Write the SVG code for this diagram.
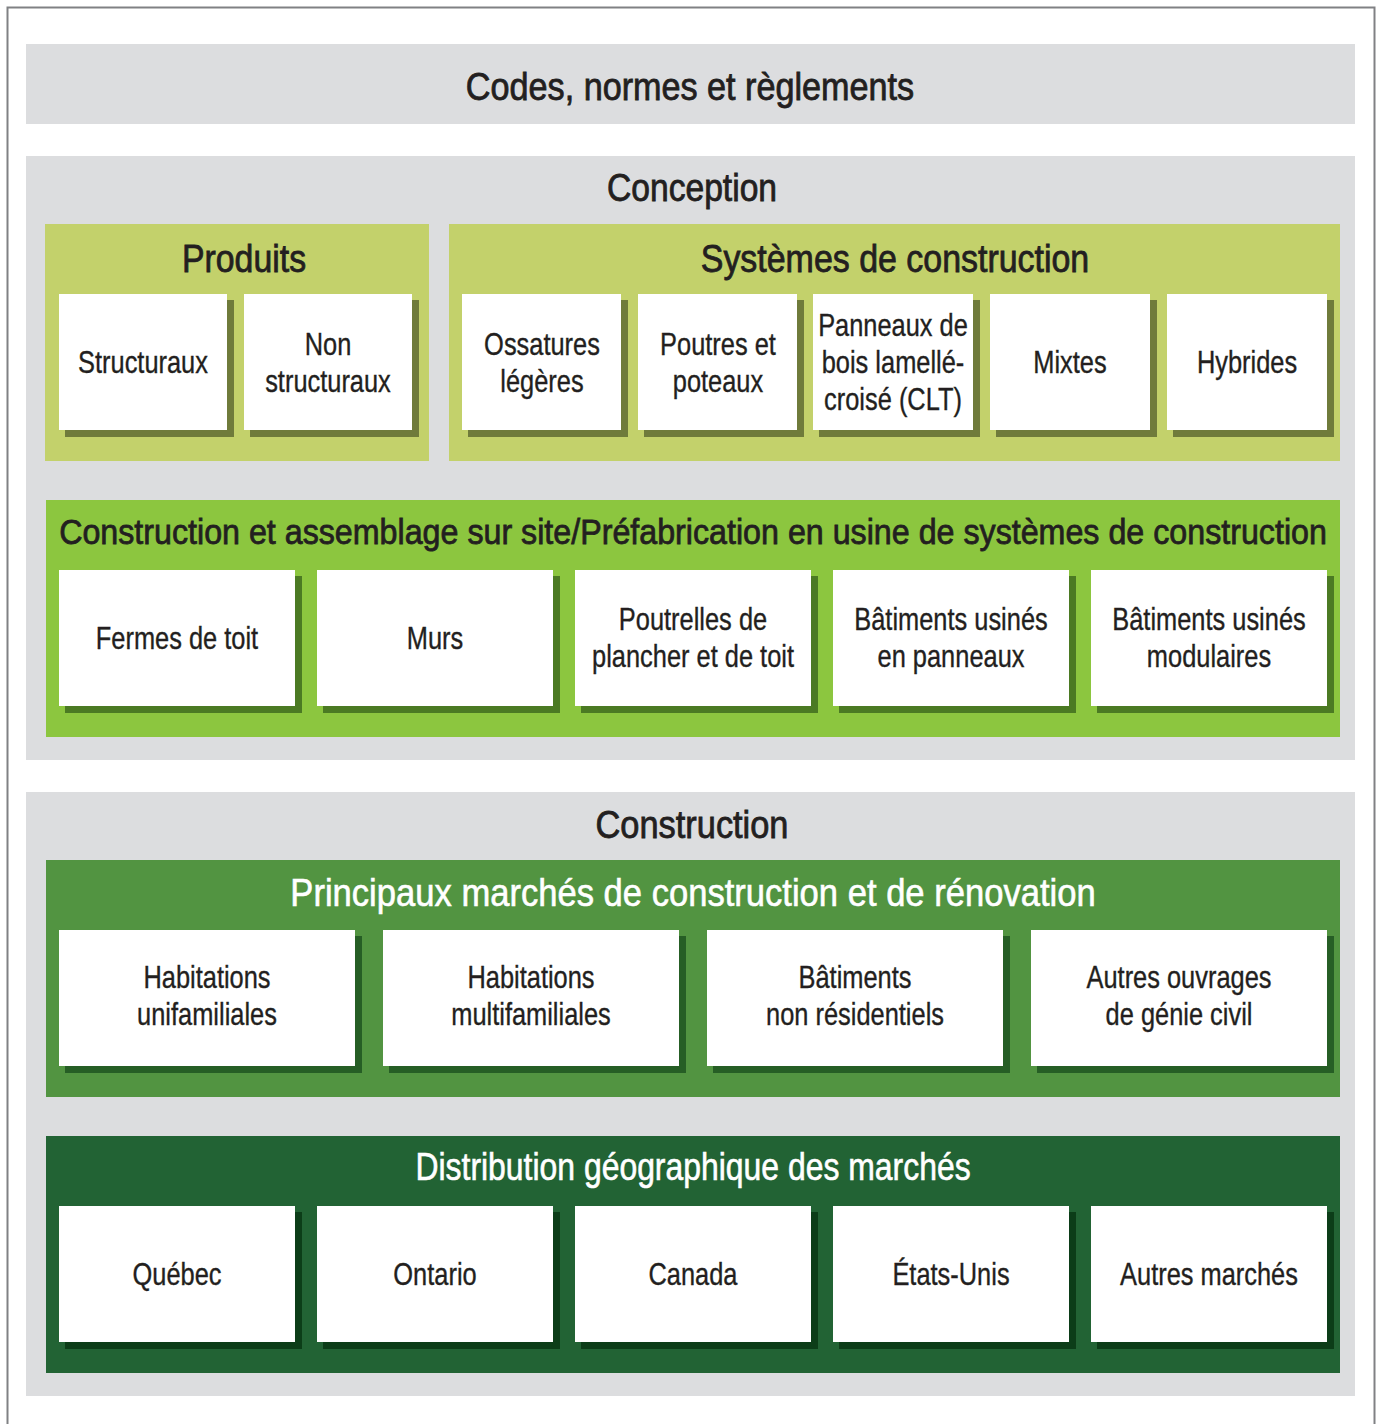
<svg xmlns="http://www.w3.org/2000/svg" width="1379" height="1424" viewBox="0 0 1379 1424">
<style>
text{font-family:"Liberation Sans",Arial,sans-serif;text-anchor:middle;fill:#231f20}
.h{font-size:38px;stroke:#231f20;stroke-width:0.8}
.h2{font-size:36px;stroke:#231f20;stroke-width:0.8}
.l{font-size:31px;stroke:#231f20;stroke-width:0.35}
.h.w{fill:#ffffff;stroke:#ffffff;stroke-width:0.6}
.gray{fill:#dcdddf}
.lime{fill:#c3d16b}
.bright{fill:#8cc63f}
.mid{fill:#529441}
.dark{fill:#226334}
.box{fill:#ffffff}
.s1{fill:#6f7b3b}
.s2{fill:#4b7a23}
.s3{fill:#265e25}
.s4{fill:#0c3d18}
</style>
<rect x="0" y="0" width="1379" height="1424" fill="#ffffff"/>
<rect x="7.5" y="7.5" width="1367" height="1440" fill="none" stroke="#808184" stroke-width="2"/>

<g id="codes">
<rect class="gray" x="26" y="44" width="1329" height="80"/>
<text class="h" transform="translate(690,100) scale(0.9,1)">Codes, normes et règlements</text>
</g>

<g id="conception">
<rect class="gray" x="26" y="156" width="1329" height="604"/>
<text class="h" transform="translate(692,201) scale(0.885,1)">Conception</text>
</g>

<g id="produits">
<rect class="lime" x="45" y="224" width="384" height="237"/>
<text class="h" transform="translate(244,272) scale(0.89,1)">Produits</text>
</g>
<g id="structuraux">
<rect class="s1" x="65" y="300" width="169" height="137"/>
<rect class="box" x="59" y="294" width="168" height="136"/>
<text class="l" transform="translate(143,373) scale(0.82,1)">Structuraux</text>
</g>
<g id="non-structuraux">
<rect class="s1" x="250" y="300" width="169" height="137"/>
<rect class="box" x="244" y="294" width="168" height="136"/>
<text class="l" transform="translate(328,355) scale(0.82,1)">Non</text>
<text class="l" transform="translate(328,392) scale(0.82,1)">structuraux</text>
</g>

<g id="systemes">
<rect class="lime" x="449" y="224" width="891" height="237"/>
<text class="h" transform="translate(895,272) scale(0.893,1)">Systèmes de construction</text>
</g>
<g id="ossatures">
<rect class="s1" x="468" y="300" width="160" height="137"/>
<rect class="box" x="462" y="294" width="159" height="136"/>
<text class="l" transform="translate(542,355) scale(0.82,1)">Ossatures</text>
<text class="l" transform="translate(542,392) scale(0.82,1)">légères</text>
</g>
<g id="poutres">
<rect class="s1" x="644" y="300" width="160" height="137"/>
<rect class="box" x="638" y="294" width="159" height="136"/>
<text class="l" transform="translate(718,355) scale(0.82,1)">Poutres et</text>
<text class="l" transform="translate(718,392) scale(0.82,1)">poteaux</text>
</g>
<g id="clt">
<rect class="s1" x="819" y="300" width="161" height="137"/>
<rect class="box" x="813" y="294" width="160" height="136"/>
<text class="l" transform="translate(893,336) scale(0.82,1)">Panneaux de</text>
<text class="l" transform="translate(893,373) scale(0.82,1)">bois lamellé-</text>
<text class="l" transform="translate(893,410) scale(0.82,1)">croisé (CLT)</text>
</g>
<g id="mixtes">
<rect class="s1" x="996" y="300" width="161" height="137"/>
<rect class="box" x="990" y="294" width="160" height="136"/>
<text class="l" transform="translate(1070,373) scale(0.82,1)">Mixtes</text>
</g>
<g id="hybrides">
<rect class="s1" x="1173" y="300" width="161" height="137"/>
<rect class="box" x="1167" y="294" width="160" height="136"/>
<text class="l" transform="translate(1247,373) scale(0.82,1)">Hybrides</text>
</g>

<g id="assemblage">
<rect class="bright" x="46" y="500" width="1294" height="237"/>
<text class="h2" transform="translate(693,544) scale(0.895,1)">Construction et assemblage sur site/Préfabrication en usine de systèmes de construction</text>
</g>
<g id="fermes">
<rect class="s2" x="65" y="576" width="237" height="137"/>
<rect class="box" x="59" y="570" width="236" height="136"/>
<text class="l" transform="translate(177,649) scale(0.82,1)">Fermes de toit</text>
</g>
<g id="murs">
<rect class="s2" x="323" y="576" width="237" height="137"/>
<rect class="box" x="317" y="570" width="236" height="136"/>
<text class="l" transform="translate(435,649) scale(0.82,1)">Murs</text>
</g>
<g id="poutrelles">
<rect class="s2" x="581" y="576" width="237" height="137"/>
<rect class="box" x="575" y="570" width="236" height="136"/>
<text class="l" transform="translate(693,630) scale(0.82,1)">Poutrelles de</text>
<text class="l" transform="translate(693,667) scale(0.82,1)">plancher et de toit</text>
</g>
<g id="panneaux">
<rect class="s2" x="839" y="576" width="237" height="137"/>
<rect class="box" x="833" y="570" width="236" height="136"/>
<text class="l" transform="translate(951,630) scale(0.82,1)">Bâtiments usinés</text>
<text class="l" transform="translate(951,667) scale(0.82,1)">en panneaux</text>
</g>
<g id="modulaires">
<rect class="s2" x="1097" y="576" width="237" height="137"/>
<rect class="box" x="1091" y="570" width="236" height="136"/>
<text class="l" transform="translate(1209,630) scale(0.82,1)">Bâtiments usinés</text>
<text class="l" transform="translate(1209,667) scale(0.82,1)">modulaires</text>
</g>

<g id="construction">
<rect class="gray" x="26" y="792" width="1329" height="604"/>
<text class="h" transform="translate(692,838) scale(0.905,1)">Construction</text>
</g>

<g id="marches">
<rect class="mid" x="46" y="860" width="1294" height="237"/>
<text class="h w" transform="translate(693,906) scale(0.91,1)">Principaux marchés de construction et de rénovation</text>
</g>
<g id="unifamiliales">
<rect class="s3" x="65" y="936" width="297" height="137"/>
<rect class="box" x="59" y="930" width="296" height="136"/>
<text class="l" transform="translate(207,988) scale(0.82,1)">Habitations</text>
<text class="l" transform="translate(207,1025) scale(0.82,1)">unifamiliales</text>
</g>
<g id="multifamiliales">
<rect class="s3" x="389" y="936" width="297" height="137"/>
<rect class="box" x="383" y="930" width="296" height="136"/>
<text class="l" transform="translate(531,988) scale(0.82,1)">Habitations</text>
<text class="l" transform="translate(531,1025) scale(0.82,1)">multifamiliales</text>
</g>
<g id="non-residentiels">
<rect class="s3" x="713" y="936" width="297" height="137"/>
<rect class="box" x="707" y="930" width="296" height="136"/>
<text class="l" transform="translate(855,988) scale(0.82,1)">Bâtiments</text>
<text class="l" transform="translate(855,1025) scale(0.82,1)">non résidentiels</text>
</g>
<g id="genie-civil">
<rect class="s3" x="1037" y="936" width="297" height="137"/>
<rect class="box" x="1031" y="930" width="296" height="136"/>
<text class="l" transform="translate(1179,988) scale(0.82,1)">Autres ouvrages</text>
<text class="l" transform="translate(1179,1025) scale(0.82,1)">de génie civil</text>
</g>

<g id="distribution">
<rect class="dark" x="46" y="1136" width="1294" height="237"/>
<text class="h w" transform="translate(693,1180) scale(0.84,1)">Distribution géographique des marchés</text>
</g>
<g id="quebec">
<rect class="s4" x="65" y="1212" width="237" height="137"/>
<rect class="box" x="59" y="1206" width="236" height="136"/>
<text class="l" transform="translate(177,1285) scale(0.82,1)">Québec</text>
</g>
<g id="ontario">
<rect class="s4" x="323" y="1212" width="237" height="137"/>
<rect class="box" x="317" y="1206" width="236" height="136"/>
<text class="l" transform="translate(435,1285) scale(0.82,1)">Ontario</text>
</g>
<g id="canada">
<rect class="s4" x="581" y="1212" width="237" height="137"/>
<rect class="box" x="575" y="1206" width="236" height="136"/>
<text class="l" transform="translate(693,1285) scale(0.82,1)">Canada</text>
</g>
<g id="etats-unis">
<rect class="s4" x="839" y="1212" width="237" height="137"/>
<rect class="box" x="833" y="1206" width="236" height="136"/>
<text class="l" transform="translate(951,1285) scale(0.82,1)">États-Unis</text>
</g>
<g id="autres-marches">
<rect class="s4" x="1097" y="1212" width="237" height="137"/>
<rect class="box" x="1091" y="1206" width="236" height="136"/>
<text class="l" transform="translate(1209,1285) scale(0.82,1)">Autres marchés</text>
</g>

<g id="connectors"></g>
</svg>
